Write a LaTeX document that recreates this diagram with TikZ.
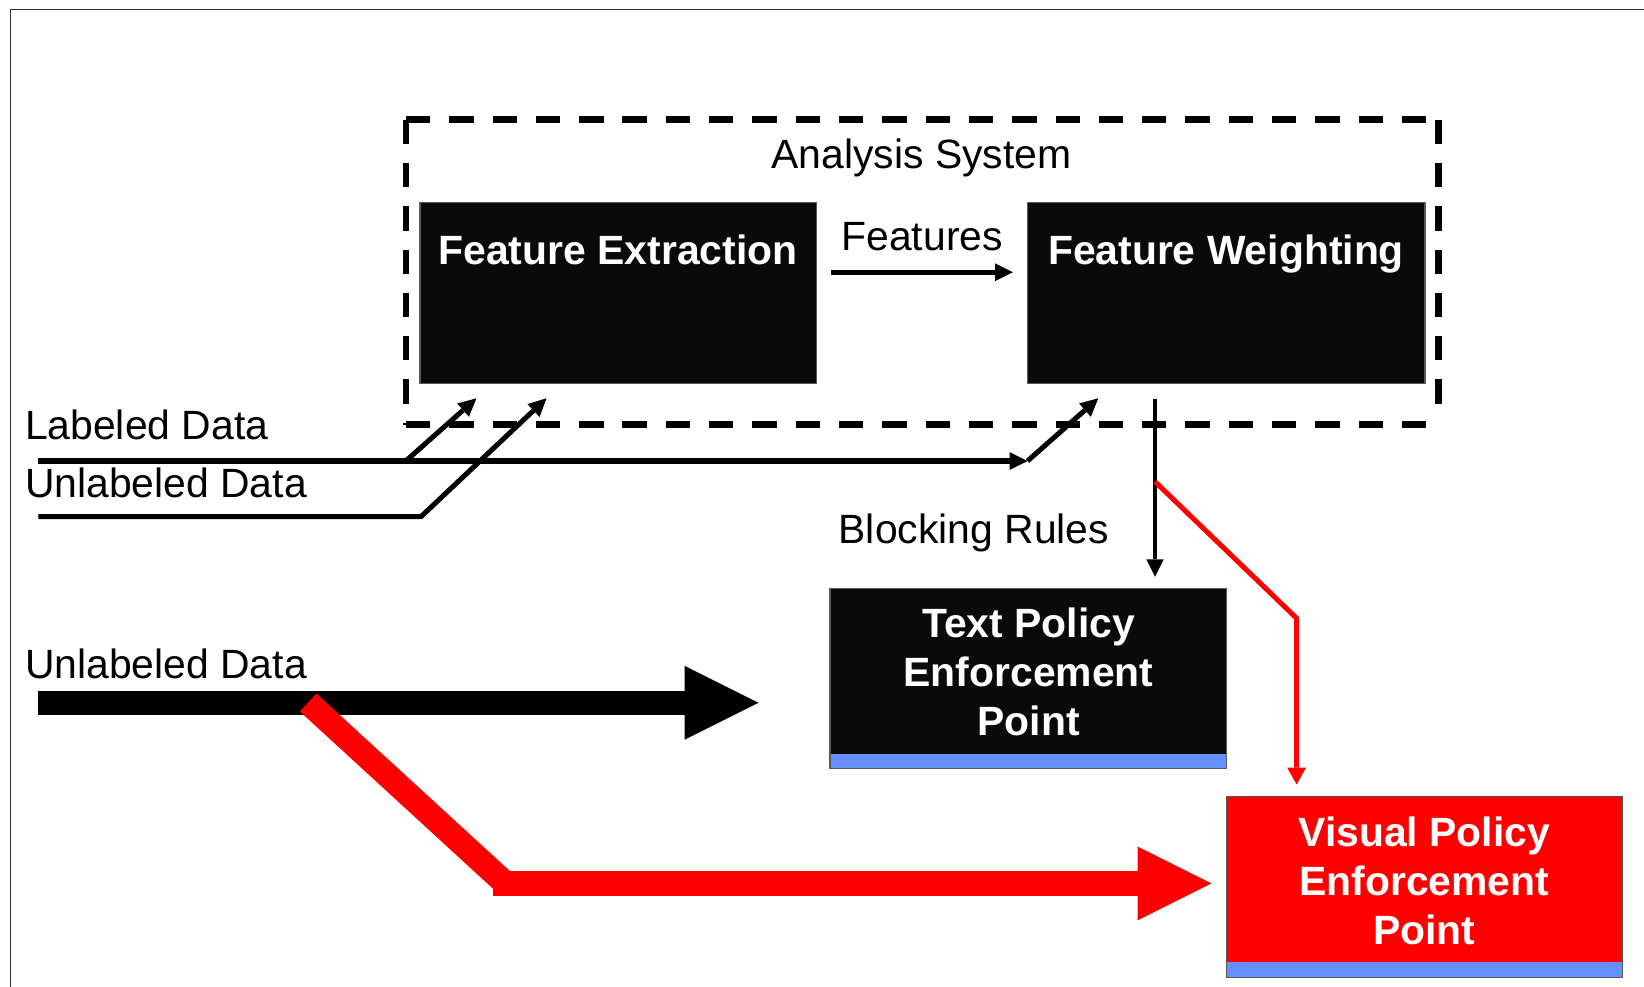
\documentclass[tikz,border=0pt]{standalone}
\usepackage{fontspec}
\setmainfont{Liberation Sans}
\usetikzlibrary{arrows.meta,calc}
\definecolor{boxblack}{HTML}{0A0A0A}
\definecolor{stripblue}{HTML}{6690FF}
\definecolor{pptred}{HTML}{FF0000}
\definecolor{framegray}{HTML}{333333}
\begin{document}
\begin{tikzpicture}[x=0.5pt,y=-0.5pt,
  txt/.style={inner sep=0pt, font=\fontsize{19.5}{23.35}\selectfont},
  wtxt/.style={inner sep=0pt, font=\fontsize{19.5}{23.35}\selectfont\bfseries, text=white, align=center},
  darkbox/.style={draw=black!65, line width=0.5pt, fill=boxblack, inner sep=0pt},
  stripbox/.style={draw=black!65, line width=0.5pt, inner sep=0pt,
    path picture={\fill[stripblue] (path picture bounding box.south west) rectangle ([yshift=7.2pt]path picture bounding box.south east);}},
  dashedge/.style={line width=3.2pt, dash pattern=on 11.6pt off 9.05pt},
  thinarrow/.style={line width=2.4pt, -{Triangle[length=8.5pt,width=8.5pt,line width=0pt]}},
  blkarrow/.style={line width=2.05pt, -{Triangle[length=8.25pt,width=8.25pt,line width=0pt]}},
  redarrow/.style={line width=2.4pt, pptred, -{Triangle[length=8pt,width=9pt,line width=0pt]}},
  bigline/.style={line width=11.65pt},
  bigarrow/.style={bigline, -{Triangle[length=35.25pt,width=35.2pt,line width=0pt]}}
]
\useasboundingbox (0,0) rectangle (1568,941);
% outer frame
\draw[framegray, line width=0.75pt] (10.2,990) -- (10.2,8.9) -- (1620,8.9);

% analysis system (dashed)
\node[inner sep=0pt, minimum width=492.1pt, minimum height=145.1pt] (ana) at (879.7,259.6) {};
\draw[dashedge] (ana.north west) -- (ana.north east);
\draw[dashedge] (ana.north west) -- (ana.south west);
\draw[dashedge] (ana.south west) -- (ana.south east);
\draw[dashedge, shorten >=2pt] (ana.north east) -- (ana.south east);
\node[txt, anchor=base] (anatxt) at (879,160.5) {Analysis System};

% feature boxes
\node[darkbox, minimum width=189.15pt, minimum height=86.45pt] (fe) at (589.75,279.75) {};
\node[darkbox, minimum width=189.65pt, minimum height=86.45pt] (fw) at (1169.45,279.75) {};
\node[wtxt, anchor=base] (fetxt) at (589.4,251.8) {Feature Extraction};
\node[wtxt, anchor=base] (fwtxt) at (1169.3,251.8) {Feature Weighting};

% features arrow
\node[txt, anchor=base] (feattxt) at (879.5,239.1) {Features};
\coordinate (featy) at (0,259.7);
\draw[thinarrow, shorten <=6.35pt, shorten >=6.65pt] (fe.east |- featy) -- (fw.west |- featy);

% data inputs
\node[txt, anchor=base west] (labtxt) at (23.5,419.6) {Labeled Data};
\node[txt, anchor=base west] (unltxt) at (23.5,474.3) {Unlabeled Data};
\coordinate (l0) at (36.5,439.7);
\coordinate (lb) at (387,439.7);
\coordinate (l1) at (980,439.7);
\coordinate (lt1) at (454.4,379.9);
\coordinate (lt3) at (1047.5,379.9);
\coordinate (u0) at (36.5,492.8);
\coordinate (u1) at (401.5,492.8);
\coordinate (ut) at (521.2,379.9);
\draw[thinarrow] (l0) -- (l1);
\draw[thinarrow] (lb) -- (lt1);
\draw[thinarrow] (l1) -- (lt3);
\draw[thinarrow] (u0) -- (u1) -- (ut);

% policy enforcement points (base anchor = baseline of last line)
\node[darkbox, stripbox, minimum width=189.2pt, minimum height=85.85pt] (tpep) at (980.8,647.25) {};
\node[wtxt, anchor=base] (tpeptxt) at (981,701.7) {Text Policy\\Enforcement\\Point};
\node[stripbox, fill=pptred, minimum width=188.95pt, minimum height=86.1pt] (vpep) at (1358.75,845.9) {};
\node[wtxt, anchor=base] (vpeptxt) at (1358.5,900.9) {Visual Policy\\Enforcement\\Point};

% blocking rules
\node[txt, anchor=base west] (blktxt) at (799.5,518.2) {Blocking Rules};
\coordinate (blk) at (1101.6,459.4);
\coordinate (rbend) at (1236.7,589.7);
\draw[blkarrow, shorten <=6.85pt, shorten >=5.4pt] (fw.south -| blk) -- (tpep.north -| blk);
\draw[redarrow, shorten >=5.55pt] (blk) -- (rbend) -- (vpep.north -| rbend);

% unlabeled data stream
\node[txt, anchor=base west] (unl2txt) at (23.5,647.3) {Unlabeled Data};
\coordinate (bk0) at (36.5,670.3);
\draw[bigarrow, shorten >=33.8pt] (bk0) -- (tpep.west |- bk0);
\coordinate (rb0) at (293.9,670);
\coordinate (rb1) at (482,842.6);
\draw[bigline, pptred] (rb0) -- (rb1);
\draw[bigarrow, pptred, line cap=rect, shorten >=6.9pt] (rb1) -- (vpep.west |- rb1);
\end{tikzpicture}
\end{document}
